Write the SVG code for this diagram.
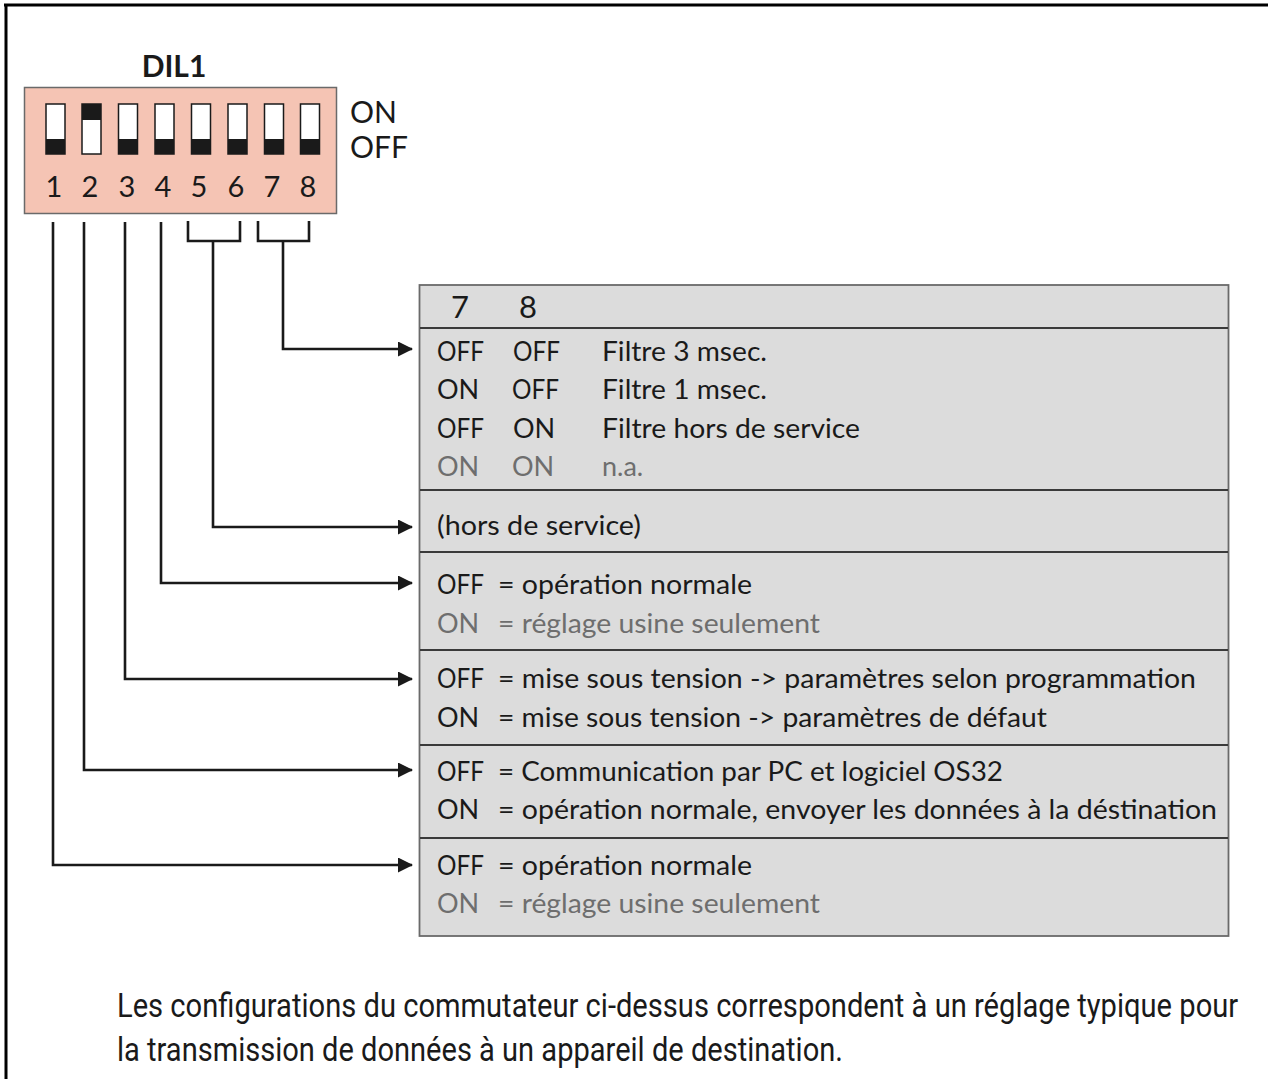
<svg xmlns="http://www.w3.org/2000/svg" width="1268" height="1079" viewBox="0 0 1268 1079">
<style>
.t{font-family:Lato,"Open Sans","Noto Sans",sans-serif;font-size:27px;fill:#1a1a1a}
.g{fill:#6e6e6e}
.num{font-family:Lato,"Open Sans",sans-serif;font-size:29px;fill:#1a1a1a;text-anchor:middle}
.sw{fill:#ffffff;stroke:#1a1a1a;stroke-width:1.5}
.kn{fill:#1a1a1a}
.c{fill:none;stroke:#1a1a1a;stroke-width:2.6}
.sep{stroke:#3a3a3a;stroke-width:1.8}
.note{font-family:Roboto,"Liberation Sans",sans-serif;font-size:33px;fill:#1a1a1a}
</style>
<defs>
<marker id="ah" markerWidth="15" markerHeight="15" refX="14" refY="7.5" orient="auto" markerUnits="userSpaceOnUse">
<path d="M0,0 L15,7.5 L0,15 Z" fill="#1a1a1a"/>
</marker>
</defs>
<g id="frame">
<line x1="4" y1="5" x2="1268" y2="5" stroke="#000" stroke-width="3"/>
<line x1="6" y1="4" x2="6" y2="1079" stroke="#000" stroke-width="3"/>
</g>
<g id="dil1">
<text x="174" y="77" text-anchor="middle" style="font-family:Lato,'Open Sans',sans-serif;font-size:30px;font-weight:bold;fill:#1a1a1a">DIL1</text>
<rect x="24.5" y="87.5" width="312" height="126" fill="#f5c4b4" stroke="#6a6a6a" stroke-width="1.5"/>
<rect class="sw" x="46" y="104" width="19" height="50"/><rect class="kn" x="46" y="139" width="19" height="15"/>
<rect class="sw" x="82" y="104" width="19" height="50"/><rect class="kn" x="82" y="104" width="19" height="16"/>
<rect class="sw" x="118.5" y="104" width="19" height="50"/><rect class="kn" x="118.5" y="139" width="19" height="15"/>
<rect class="sw" x="155" y="104" width="19" height="50"/><rect class="kn" x="155" y="139" width="19" height="15"/>
<rect class="sw" x="191.5" y="104" width="19" height="50"/><rect class="kn" x="191.5" y="139" width="19" height="15"/>
<rect class="sw" x="228" y="104" width="19" height="50"/><rect class="kn" x="228" y="139" width="19" height="15"/>
<rect class="sw" x="264.5" y="104" width="19" height="50"/><rect class="kn" x="264.5" y="139" width="19" height="15"/>
<rect class="sw" x="300.5" y="104" width="19" height="50"/><rect class="kn" x="300.5" y="139" width="19" height="15"/>
<text class="num" x="54" y="197">1</text>
<text class="num" x="90" y="197">2</text>
<text class="num" x="127" y="197">3</text>
<text class="num" x="163" y="197">4</text>
<text class="num" x="199" y="197">5</text>
<text class="num" x="236" y="197">6</text>
<text class="num" x="272" y="197">7</text>
<text class="num" x="308" y="197">8</text>
<text class="num" x="350" y="123" style="text-anchor:start;font-size:30px">ON</text>
<text class="num" x="350" y="158" style="text-anchor:start;font-size:30px">OFF</text>
</g>
<g id="connectors">
<path class="c" d="M53,222 V865 H412" marker-end="url(#ah)"/>
<path class="c" d="M84,222 V770 H412" marker-end="url(#ah)"/>
<path class="c" d="M125,222 V679 H412" marker-end="url(#ah)"/>
<path class="c" d="M161,222 V583 H412" marker-end="url(#ah)"/>
<path class="c" d="M188,221 V241 H240 V221 M213,241 V527 H412" marker-end="url(#ah)"/>
<path class="c" d="M258,221 V241 H309 V221 M283,241 V349 H412" marker-end="url(#ah)"/>
</g>
<g id="table">
<rect x="419.5" y="285" width="809" height="651" fill="#dcdcdc" stroke="#6a6a6a" stroke-width="1.8"/>
<line class="sep" x1="420" y1="328" x2="1228" y2="328"/>
<line class="sep" x1="420" y1="490" x2="1228" y2="490"/>
<line class="sep" x1="420" y1="552" x2="1228" y2="552"/>
<line class="sep" x1="420" y1="650" x2="1228" y2="650"/>
<line class="sep" x1="420" y1="745" x2="1228" y2="745"/>
<line class="sep" x1="420" y1="838" x2="1228" y2="838"/>
</g>
<g id="row-78">
<text class="t" x="451" y="318" style="font-size:31px">7</text>
<text class="t" x="519" y="318" style="font-size:31px">8</text>
<text class="t" x="437" y="361" textLength="47" lengthAdjust="spacingAndGlyphs">OFF</text><text class="t" x="513" y="361" textLength="47" lengthAdjust="spacingAndGlyphs">OFF</text><text class="t" x="602" y="361" textLength="165" lengthAdjust="spacingAndGlyphs">Filtre 3 msec.</text>
<text class="t" x="437" y="399">ON</text><text class="t" x="512" y="399" textLength="47" lengthAdjust="spacingAndGlyphs">OFF</text><text class="t" x="602" y="399" textLength="165" lengthAdjust="spacingAndGlyphs">Filtre 1 msec.</text>
<text class="t" x="437" y="438" textLength="47" lengthAdjust="spacingAndGlyphs">OFF</text><text class="t" x="513" y="438">ON</text><text class="t" x="602" y="438" textLength="258" lengthAdjust="spacingAndGlyphs">Filtre hors de service</text>
<text class="t g" x="437" y="476">ON</text><text class="t g" x="512" y="476">ON</text><text class="t g" x="602" y="476">n.a.</text>
</g>
<g id="row-56">
<text class="t" x="437" y="535" textLength="204" lengthAdjust="spacingAndGlyphs">(hors de service)</text>
</g>
<g id="row-4">
<text class="t" x="437" y="594" textLength="47" lengthAdjust="spacingAndGlyphs">OFF</text><text class="t" x="498" y="594" textLength="254" lengthAdjust="spacingAndGlyphs">= opération normale</text>
<text class="t g" x="437" y="633">ON</text><text class="t g" x="498" y="633" textLength="322" lengthAdjust="spacingAndGlyphs">= réglage usine seulement</text>
</g>
<g id="row-3">
<text class="t" x="437" y="688" textLength="47" lengthAdjust="spacingAndGlyphs">OFF</text><text class="t" x="498" y="688" textLength="698" lengthAdjust="spacingAndGlyphs">= mise sous tension -&gt; paramètres selon programmation</text>
<text class="t" x="437" y="727">ON</text><text class="t" x="498" y="727" textLength="549" lengthAdjust="spacingAndGlyphs">= mise sous tension -&gt; paramètres de défaut</text>
</g>
<g id="row-2">
<text class="t" x="437" y="781" textLength="47" lengthAdjust="spacingAndGlyphs">OFF</text><text class="t" x="498" y="781" textLength="505" lengthAdjust="spacingAndGlyphs">= Communication par PC et logiciel OS32</text>
<text class="t" x="437" y="819">ON</text><text class="t" x="498" y="819" textLength="719" lengthAdjust="spacingAndGlyphs">= opération normale, envoyer les données à la déstination</text>
</g>
<g id="row-1">
<text class="t" x="437" y="875" textLength="47" lengthAdjust="spacingAndGlyphs">OFF</text><text class="t" x="498" y="875" textLength="254" lengthAdjust="spacingAndGlyphs">= opération normale</text>
<text class="t g" x="437" y="913">ON</text><text class="t g" x="498" y="913" textLength="322" lengthAdjust="spacingAndGlyphs">= réglage usine seulement</text>
</g>
<g id="note">
<text class="note" transform="translate(117,1017) scale(0.85,1)" x="0" y="0" textLength="1319" lengthAdjust="spacingAndGlyphs">Les configurations du commutateur ci-dessus correspondent à un réglage typique pour</text>
<text class="note" transform="translate(117,1061) scale(0.85,1)" x="0" y="0" textLength="854" lengthAdjust="spacingAndGlyphs">la transmission de données à un appareil de destination.</text>
</g>
</svg>
